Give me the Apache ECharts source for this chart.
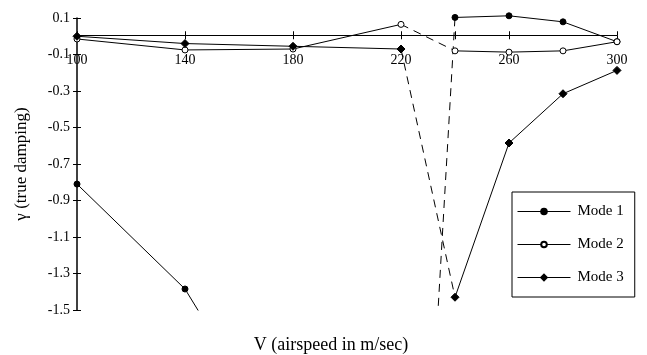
<!DOCTYPE html>
<html>
<head>
<meta charset="utf-8">
<script src="https://cdn.jsdelivr.net/npm/echarts@6/dist/echarts.min.js"></script>
<style>
  html, body { margin: 0; padding: 0; background: #fff; }
  #chart { width: 647px; height: 355px; }
</style>
</head>
<body>
<div id="chart"></div>
<script>
// airspeed (m/sec)
const speeds = [100, 140, 180, 220, 240, 260, 280, 300];
// true damping per mode (180/220 of mode 1 run off the bottom)
const mode1 = [-0.81, -1.385, -2.35, -5.0, 0.103, 0.112, 0.079, -0.03];
const mode2 = [-0.015, -0.075, -0.07, 0.065, -0.08, -0.087, -0.08, -0.03];
const mode3 = [0.0, -0.04, -0.055, -0.07, -1.43, -0.585, -0.315, -0.187];

const xLabelValues = [100, 140, 180, 220, 260, 300];
const xTickValues = [100, 140, 180, 220, 240, 260, 300];
const yTickValues = [0.1, -0.1, -0.3, -0.5, -0.7, -0.9, -1.1, -1.3, -1.5];

const FONT = 'Liberation Serif';
const Y_MIN = -1.5, Y_MAX = 0.1;
const GRID_TOP = 18, GRID_BOTTOM = 45, CH = 355;

// points from index a to b as [x, y] pairs
function pts(vals, a, b) {
  const out = [];
  for (let i = a; i <= b; i++) out.push([speeds[i], vals[i]]);
  return out;
}

// the x axis sits on the y = 0 line, so shift it up from the grid bottom
const plotH = CH - GRID_TOP - GRID_BOTTOM;
const xOffset = -(plotH * (0 - Y_MIN) / (Y_MAX - Y_MIN)) - 1;

const modes = [
  { name: 'Mode 1', vals: mode1, symbol: 'circle', fill: '#000', size: 6 },
  { name: 'Mode 2', vals: mode2, symbol: 'circle', fill: '#fff', size: 6 },
  { name: 'Mode 3', vals: mode3, symbol: 'diamond', fill: '#000', size: 8 }
];

const series = [];
modes.forEach(function (m, k) {
  const base = {
    name: m.name,
    type: 'line',
    symbol: m.symbol,
    symbolSize: m.size,
    showSymbol: true,
    itemStyle: { color: m.fill, borderColor: '#000', borderWidth: 1 },
    lineStyle: { color: '#000', width: 1 },
    animation: false,
    z: 3
  };
  // solid part up to 220
  series.push(Object.assign({}, base, { data: pts(m.vals, 0, 3) }));
  // dashed jump 220 -> 240
  series.push(Object.assign({}, base, {
    data: pts(m.vals, 3, 4),
    showSymbol: false,
    symbol: 'none',
    lineStyle: { color: '#000', width: 1, type: [8, 6] },
    z: 2
  }));
  // solid part 240 -> 300
  series.push(Object.assign({}, base, {
    data: pts(m.vals, 4, 7),
    clip: k === 0 ? false : true
  }));
});

const myChart = echarts.init(document.getElementById('chart'));
const options = {
  backgroundColor: '#fff',
  textStyle: { fontFamily: FONT, color: '#000' },
  grid: { left: 77, right: 30, top: GRID_TOP, bottom: GRID_BOTTOM, containLabel: false },
  legend: {
    orient: 'vertical',
    left: 512,
    top: 192,
    width: 126,
    padding: [12, 11, 12, 5],
    itemGap: 18,
    itemWidth: 53,
    itemHeight: 7,
    borderColor: '#000',
    borderWidth: 1,
    lineStyle: { width: 1, color: '#000' },
    textStyle: { fontFamily: FONT, fontSize: 15, color: '#000', padding: [0, 0, 0, 2] },
    data: ['Mode 1', 'Mode 2', 'Mode 3']
  },
  xAxis: [{
    type: 'value',
    min: 100,
    max: 300,
    position: 'bottom',
    offset: xOffset,
    axisLine: { onZero: false, lineStyle: { color: '#000', width: 1 } },
    axisTick: { customValues: xTickValues, length: 4, lineStyle: { color: '#000' } },
    axisLabel: {
      customValues: xLabelValues,
      margin: 18,
      fontFamily: FONT,
      fontSize: 14,
      color: '#000'
    },
    splitLine: { show: false }
  }, {
    type: 'value',
    min: 100,
    max: 300,
    position: 'bottom',
    offset: xOffset,
    axisLine: { show: false, onZero: false },
    axisTick: { customValues: xTickValues, inside: true, length: 4, lineStyle: { color: '#000' } },
    axisLabel: { show: false },
    splitLine: { show: false }
  }],
  yAxis: [{
    type: 'value',
    min: Y_MIN,
    max: Y_MAX,
    name: 'γ (true damping)',
    nameLocation: 'middle',
    nameGap: 47,
    nameTextStyle: { fontFamily: FONT, fontSize: 17, color: '#000' },
    axisLine: { show: true, onZero: false, lineStyle: { color: '#000', width: 1.5 } },
    axisTick: { customValues: yTickValues, length: 4, lineStyle: { color: '#000' } },
    axisLabel: {
      customValues: yTickValues,
      margin: 7,
      fontFamily: FONT,
      fontSize: 14,
      color: '#000',
      formatter: function (v) { return v.toFixed(1); }
    },
    splitLine: { show: false }
  }, {
    type: 'value',
    position: 'left',
    min: Y_MIN,
    max: Y_MAX,
    axisLine: { show: false, onZero: false },
    axisTick: { customValues: yTickValues, inside: true, length: 4, lineStyle: { color: '#000' } },
    axisLabel: { show: false },
    splitLine: { show: false }
  }],
  graphic: [{
    type: 'text',
    x: 331,
    y: 345,
    style: {
      text: 'V (airspeed in m/sec)',
      font: '18px "Liberation Serif"',
      fill: '#000',
      align: 'center',
      verticalAlign: 'middle'
    }
  }],
  series: series
};
myChart.setOption(options);
window.addEventListener('resize', myChart.resize);
</script>
</body>
</html>
